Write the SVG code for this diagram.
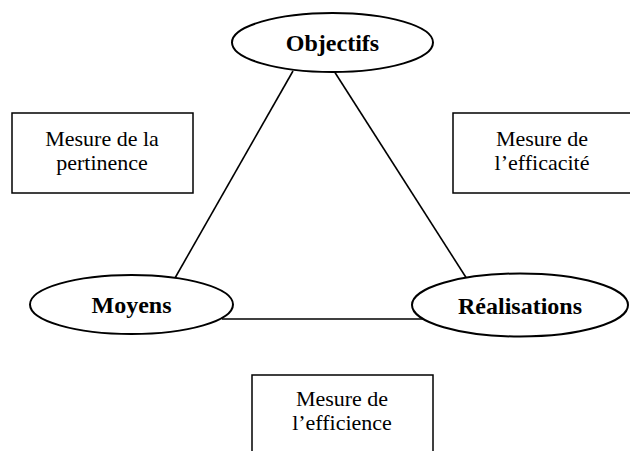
<svg xmlns="http://www.w3.org/2000/svg" width="630" height="451" viewBox="0 0 630 451">
<style>
.bg{fill:#fff}
.el{fill:#fff;stroke:#000;stroke-width:2}
.bx{fill:#fff;stroke:#000;stroke-width:1.5}
.ln{stroke:#000;stroke-width:1.6;fill:none}
.t{font-family:"Liberation Serif","Times New Roman",serif;font-size:22px;fill:#000;text-anchor:middle}
.b{font-family:"Liberation Serif","Times New Roman",serif;font-size:24px;font-weight:bold;fill:#000;text-anchor:middle}
</style>
<rect class="bg" x="0" y="0" width="630" height="451"/>
<g id="connectors">
<line class="ln" x1="293" y1="71" x2="175" y2="278"/>
<line class="ln" x1="334" y1="71" x2="467" y2="279"/>
<line class="ln" x1="222" y1="319" x2="423" y2="319"/>
</g>
<g id="box-pertinence">
<rect class="bx" x="12" y="113" width="181" height="80"/>
<text class="t" x="102" y="146">Mesure de la</text>
<text class="t" x="102" y="170">pertinence</text>
</g>
<g id="box-efficacite">
<rect class="bx" x="453" y="113" width="180" height="80"/>
<text class="t" x="542" y="146">Mesure de</text>
<text class="t" x="542" y="170">l’efficacité</text>
</g>
<g id="box-efficience">
<rect class="bx" x="252" y="375" width="181" height="80"/>
<text class="t" x="342" y="406">Mesure de</text>
<text class="t" x="342" y="430">l’efficience</text>
</g>
<g id="objectifs">
<ellipse class="el" cx="332.5" cy="42.5" rx="100.5" ry="29.5"/>
<text class="b" x="332.5" y="51">Objectifs</text>
</g>
<g id="moyens">
<ellipse class="el" cx="131.5" cy="304.5" rx="101.5" ry="29.5"/>
<text class="b" x="131.5" y="313">Moyens</text>
</g>
<g id="realisations">
<ellipse class="el" cx="520" cy="305" rx="108" ry="31.5"/>
<text class="b" x="520" y="313.5">Réalisations</text>
</g>
</svg>
